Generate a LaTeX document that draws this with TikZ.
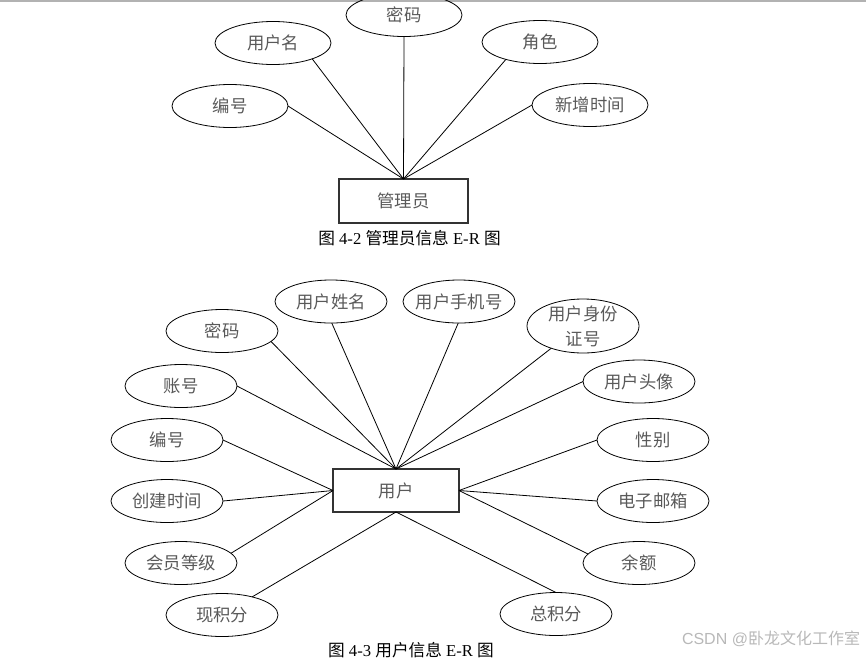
\documentclass[tikz,border=0pt]{standalone}
\usepackage{fontspec}
\setmainfont{Liberation Serif}
\newfontfamily\cjk{Noto Sans CJK SC}
\newfontfamily\wmlatin{Liberation Sans}
\usetikzlibrary{shapes.geometric}
\begin{document}
\begin{tikzpicture}[x=0.75pt,y=-0.75pt,
  atxt/.style={font=\cjk\fontsize{13}{18.75}\selectfont, text=black!65, align=center, inner sep=0pt},
  attr/.style={ellipse, draw=black, line width=0.6pt, inner sep=0pt, outer sep=0pt,
    minimum width=84pt, minimum height=32.25pt, label={[atxt]center:#1}},
  ent/.style={rectangle, draw=black!80, line width=0.9pt, inner sep=0pt, outer sep=0pt,
    font=\cjk\fontsize{13}{15}\selectfont, text=black!65},
  link/.style={draw=black, line width=0.6pt},
  captxt/.style={font=\fontsize{12.5}{15}\selectfont, inner sep=0pt},
  wmtxt/.style={font=\fontsize{12}{14}\selectfont, text=black!28, inner sep=0pt}
]
\useasboundingbox (0,0) rectangle (866,657);
\clip (0,0) rectangle (866,657);
\fill[black!30] (0,0) rectangle (866,2);

% ---------- top diagram ----------
\node[ent, minimum width=96.75pt, minimum height=33pt] (adm) at (403.5,201) {管理员};
\node[attr={编号}, minimum width=87pt] (a1) at (230,106) {};
\node[attr={用户名}, minimum width=87pt] (a2) at (273,43) {};
\node[attr={密码}, minimum width=87pt] (a3) at (404,15) {};
\node[attr={角色}, minimum width=87pt] (a4) at (540,42) {};
\node[attr={新增时间}, minimum width=87pt] (a5) at (590,105) {};
\foreach \n/\a in {a1/0,a2/-22,a3/-90,a4/-153,a5/180} \draw[link] (\n.\a) -- (adm.north);
\node[captxt] (cap1) at (409.5,238) {{\cjk 图} 4-2 {\cjk 管理员信息} E-R {\cjk 图}};

% ---------- bottom diagram ----------
\node[ent, minimum width=94.5pt, minimum height=32.25pt] (usr) at (396,490.5) {用户};
\node[attr={密码}] (u1) at (222,331) {};
\node[attr={用户姓名}] (u2) at (331,301.5) {};
\node[attr={用户手机号}] (u3) at (459,301.5) {};
\node[attr={用户身份\\证号}, minimum height=40.5pt] (u4) at (583,326) {};
\node[attr={账号}] (u5) at (181,386) {};
\node[attr={用户头像}] (u6) at (639,381.5) {};
\node[attr={编号}] (u7) at (167,440) {};
\node[attr={性别}] (u8) at (653,440) {};
\node[attr={创建时间}] (u9) at (167,501) {};
\node[attr={电子邮箱}] (u10) at (653,501) {};
\node[attr={会员等级}] (u11) at (181,563) {};
\node[attr={余额}] (u12) at (639,563) {};
\node[attr={现积分}] (u13) at (222,615) {};
\node[attr={总积分}] (u14) at (556,614) {};
\foreach \n/\a in {u1/-12,u2/-88,u3/-92,u4/-145,u5/0,u6/180} \draw[link] (\n.\a) -- (usr.north);
\foreach \n/\a in {u7/0,u9/0,u11/11} \draw[link] (\n.\a) -- (usr.west);
\foreach \n/\a in {u8/180,u10/180,u12/170} \draw[link] (\n.\a) -- (usr.east);
\foreach \n/\a in {u13/31,u14/90} \draw[link] (\n.\a) -- (usr.south);
\node[captxt] (cap2) at (411,650.5) {{\cjk 图} 4-3 {\cjk 用户信息} E-R {\cjk 图}};

\node[wmtxt] (wmk) at (771,639) {{\wmlatin CSDN @}{\cjk 卧龙文化工作室}};
\end{tikzpicture}
\end{document}
